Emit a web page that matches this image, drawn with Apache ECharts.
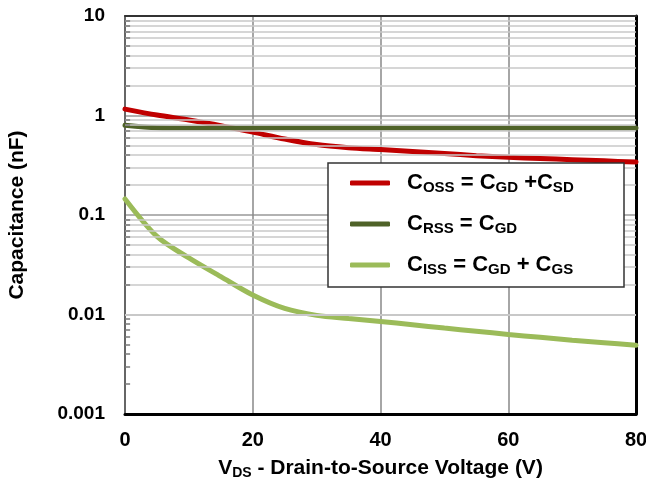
<!DOCTYPE html>
<html>
<head>
<meta charset="utf-8">
<script src="https://cdn.jsdelivr.net/npm/echarts@6/dist/echarts.min.js"></script>
<style>
html,body{margin:0;padding:0;background:#fff;}
#chart{width:646px;height:480px;}
</style>
</head>
<body>
<div id="chart"></div>
<script>
// ---- data ----
var vds  = [0, 5, 10, 15, 20, 25, 30, 35, 40, 45, 50, 55, 60, 65, 70, 75, 80];
var coss = [1.16, 1.01, 0.90, 0.79, 0.68, 0.58, 0.51, 0.475, 0.455, 0.435, 0.415, 0.395, 0.38, 0.37, 0.36, 0.35, 0.34];
var crss = [0.80, 0.755, 0.75, 0.75, 0.75, 0.75, 0.75, 0.75, 0.75, 0.75, 0.75, 0.75, 0.75, 0.75, 0.75, 0.75, 0.75];
var ciss = [0.145, 0.061, 0.037, 0.024, 0.0157, 0.0115, 0.0098, 0.0091, 0.0085, 0.0079, 0.0073, 0.0068, 0.0063, 0.0059, 0.0055, 0.0052, 0.0049];
var xTicks = [0, 20, 40, 60, 80];
var yTicks = [0.001, 0.01, 0.1, 1, 10];
var yTickLabels = ['0.001', '0.01', '0.1', '1', '10'];
var decades = [0.001, 0.01, 0.1, 1];
var multiples = [2, 3, 4, 5, 6, 7, 8, 9];

var FONT = '"Liberation Sans", Arial, sans-serif';
function pairs(ys){ return vds.map(function(x,i){ return [x, ys[i]]; }); }
var minorValues = [];
decades.forEach(function(d){ multiples.forEach(function(m){ minorValues.push(+(d*m).toPrecision(3)); }); });
var minorLines = minorValues.map(function(v){ return {yAxis: v}; });
var minorTicks = minorValues.map(function(v){ return [{coord: [0, v]}, {coord: [0.8, v]}]; });

var legendText = {
  'Coss': '{m|C}{s|OSS}{m| = C}{s|GD}{m| +C}{s|SD}',
  'Crss': '{m|C}{s|RSS}{m| = C}{s|GD}',
  'Ciss': '{m|C}{s|ISS}{m| = C}{s|GD}{m| + C}{s|GS}'
};
var richText = {
  m: {fontSize: 22, fontWeight: 'bold', fontFamily: FONT, color: '#000', lineHeight: 24, verticalAlign: 'middle'},
  s: {fontSize: 15, fontWeight: 'bold', fontFamily: FONT, color: '#000', lineHeight: 16, verticalAlign: 'bottom'}
};

var chart = echarts.init(document.getElementById('chart'), null, {renderer: 'canvas'});
chart.setOption({
  animation: false,
  backgroundColor: '#fff',
  grid: {left: 125, right: 10, top: 16, bottom: 66, containLabel: false, outerBoundsMode: 'none'},
  xAxis: [{
    type: 'value', min: xTicks[0], max: xTicks[xTicks.length-1], interval: 20,
    axisLine: {show: true, lineStyle: {color: '#000', width: 3}},
    axisTick: {show: false},
    splitLine: {show: true, lineStyle: {color: '#888', width: 1.5}},
    axisLabel: {fontSize: 20, fontWeight: 'bold', fontFamily: FONT, color: '#000', margin: 16},
    name: '{m|V}{s|DS}{m| - Drain-to-Source Voltage (V)}',
    nameLocation: 'middle', nameGap: 42,
    nameTextStyle: {rich: {
      m: {fontSize: 21, fontWeight: 'bold', fontFamily: FONT, color: '#000', lineHeight: 24, verticalAlign: 'middle'},
      s: {fontSize: 14, fontWeight: 'bold', fontFamily: FONT, color: '#000', lineHeight: 16, verticalAlign: 'bottom'}
    }}
  }, {
    type: 'value', position: 'top', min: 0, max: 80,
    axisLine: {show: true, onZero: false, lineStyle: {color: '#333', width: 2}},
    axisTick: {show: false}, axisLabel: {show: false}, splitLine: {show: false}
  }],
  yAxis: [{
    type: 'log', logBase: 10, min: yTicks[0], max: yTicks[yTicks.length-1],
    axisLine: {show: true, onZero: false, lineStyle: {color: '#666', width: 2}},
    axisTick: {show: false},
    splitLine: {show: true, lineStyle: {color: '#999', width: 1.5}},
    axisLabel: {
      fontSize: 19, fontWeight: 'bold', fontFamily: FONT, color: '#000', margin: 20,
      formatter: function(v){
        var e = Math.round(Math.log10(v));
        for (var i = 0; i < yTicks.length; i++) { if (Math.round(Math.log10(yTicks[i])) === e) return yTickLabels[i]; }
        return '';
      }
    },
    name: 'Capacitance (nF)', nameLocation: 'middle', nameRotate: 90, nameGap: 97,
    nameTextStyle: {fontSize: 21, fontWeight: 'bold', fontFamily: FONT, color: '#000'}
  }, {
    type: 'log', logBase: 10, position: 'right', min: yTicks[0], max: yTicks[yTicks.length-1],
    axisLine: {show: true, onZero: false, lineStyle: {color: '#000', width: 3}},
    axisTick: {show: false}, axisLabel: {show: false}, splitLine: {show: false}
  }],
  legend: {
    data: ['Coss', 'Crss', 'Ciss'],
    orient: 'vertical', left: 350, top: 171, z: 10,
    padding: 0, itemGap: 17, itemWidth: 40, itemHeight: 5,
    icon: 'roundRect',
    formatter: function(name){ return legendText[name]; },
    textStyle: {rich: richText, lineHeight: 24, padding: [0, 0, 0, 12]},
    selectedMode: false
  },
  graphic: [{
    type: 'rect', z: 8, silent: true,
    shape: {x: 328, y: 163, width: 296, height: 124},
    style: {fill: '#fff', stroke: '#333', lineWidth: 1.5}
  }],
  series: [{
    name: 'minor', type: 'line', data: [], silent: true, z: 1,
    markLine: {
      silent: true, symbol: ['none', 'none'], label: {show: false},
      lineStyle: {color: '#c8c8c8', width: 1.5, type: 'solid'},
      emphasis: {disabled: true},
      data: minorLines
    }
  }, {
    name: 'minorTick', type: 'line', data: [], silent: true, z: 1,
    markLine: {
      silent: true, symbol: ['none', 'none'], label: {show: false},
      lineStyle: {color: '#777', width: 1.5, type: 'solid'},
      emphasis: {disabled: true},
      data: minorTicks
    }
  }, {
    name: 'Coss', type: 'line', data: pairs(coss), smooth: 0.3, showSymbol: false, z: 3,
    color: '#c00000', lineStyle: {color: '#c00000', width: 5, cap: 'round'}
  }, {
    name: 'Crss', type: 'line', data: pairs(crss), smooth: 0.3, showSymbol: false, z: 3,
    color: '#4f6228', lineStyle: {color: '#4f6228', width: 5, cap: 'round'}
  }, {
    name: 'Ciss', type: 'line', data: pairs(ciss), smooth: 0.3, showSymbol: false, z: 3,
    color: '#9bbb59', lineStyle: {color: '#9bbb59', width: 5, cap: 'round'}
  }]
});
</script>
</body>
</html>
